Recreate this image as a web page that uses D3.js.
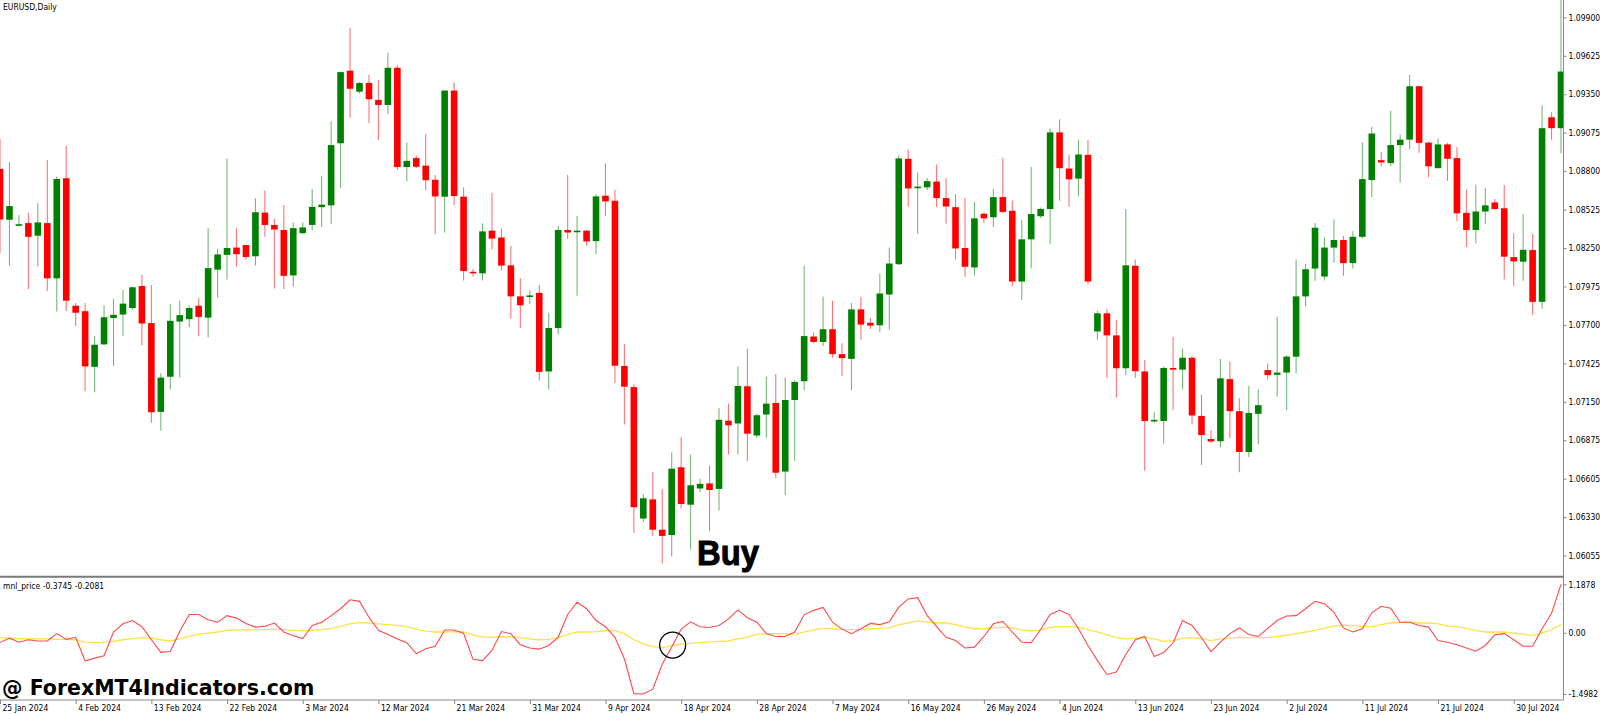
<!DOCTYPE html>
<html><head><meta charset="utf-8">
<script src="https://cdn.jsdelivr.net/npm/d3@7"></script>
<style>
html,body{margin:0;padding:0;background:#fff;overflow:hidden;}
svg{display:block;}
.lbl{font-family:"DejaVu Sans Condensed","DejaVu Sans",sans-serif;font-size:8.5px;fill:#000;}
</style></head><body>
<svg id="chart" width="1600" height="715"></svg>
<script>
// ---- DATA ----
const openP = [
1.08816,1.08452,1.08415,1.08428,1.08338,1.08428,1.08033,1.08749,1.07837,1.07798,
1.07400,1.07561,1.07749,1.07774,1.07821,1.07978,1.07713,1.07078,1.07329,1.07724,
1.07741,1.07837,1.07752,1.08095,1.08201,1.08253,1.08271,1.08191,1.08503,1.08415,
1.08379,1.08054,1.08356,1.08415,1.08542,1.08555,1.08999,1.09518,1.09368,1.09430,
1.09309,1.09273,1.09539,1.08829,1.08893,1.08839,1.08738,1.08617,1.09376,1.08617,
1.08080,1.08069,1.08374,1.08325,1.08126,1.07904,1.07904,1.07929,1.07367,1.07677,
1.08379,1.08366,1.08374,1.08299,1.08624,1.08588,1.07406,1.07255,1.06315,1.06452,
1.06235,1.06197,1.06682,1.06414,1.06530,1.06566,1.06527,1.07015,1.06995,1.07261,
1.06909,1.07059,1.07142,1.06651,1.07163,1.07297,1.07617,1.07578,1.07669,1.07491,
1.07457,1.07811,1.07715,1.07697,1.07917,1.08134,1.08888,1.08679,1.08684,1.08725,
1.08607,1.08542,1.08250,1.08111,1.08495,1.08470,1.08614,1.08516,1.08010,1.08312,
1.08477,1.08529,1.09077,1.08818,1.08746,1.08916,1.07653,1.07783,1.07625,1.07390,
1.08123,1.07367,1.07013,1.07013,1.07392,1.07380,1.07465,1.07049,1.06884,1.06868,
1.07312,1.07083,1.06791,1.07064,1.07377,1.07343,1.07359,1.07473,1.07904,1.08103,
1.08046,1.08253,1.08307,1.08142,1.08330,1.08736,1.08878,1.08857,1.08986,1.09025,
1.09407,1.09004,1.08821,1.08991,1.08893,1.08501,1.08379,1.08511,1.08576,1.08534,
1.08185,1.08152,1.08235,1.07865,1.09185,1.09107];
const highP = [
1.09028,1.08865,1.08485,1.08503,1.08570,1.08880,1.08762,1.08981,1.07857,1.07857,
1.07620,1.07840,1.07886,1.07950,1.07974,1.08059,1.07986,1.07354,1.07847,1.07873,
1.07840,1.07891,1.08392,1.08244,1.08891,1.08395,1.08273,1.08606,1.08661,1.08459,
1.08557,1.08433,1.08433,1.08671,1.08764,1.09157,1.09513,1.09823,1.09438,1.09490,
1.09449,1.09647,1.09557,1.09002,1.08911,1.09066,1.08772,1.09380,1.09433,1.08684,
1.08100,1.08426,1.08645,1.08389,1.08266,1.08033,1.07948,1.07986,1.07787,1.08408,
1.08772,1.08478,1.08379,1.08635,1.08855,1.08666,1.07561,1.07276,1.06491,1.06646,
1.06525,1.06788,1.06897,1.06773,1.06600,1.06695,1.07103,1.07137,1.07405,1.07529,
1.07064,1.07330,1.07349,1.07323,1.07305,1.08123,1.07646,1.07904,1.07873,1.07568,
1.07857,1.07899,1.07749,1.08067,1.08253,1.08911,1.08955,1.08790,1.08749,1.08847,
1.08751,1.08635,1.08609,1.08581,1.08506,1.08674,1.08896,1.08588,1.08452,1.08829,
1.08539,1.09105,1.09170,1.08919,1.09025,1.09025,1.07801,1.07814,1.07736,1.08529,
1.08167,1.07449,1.07077,1.07400,1.07615,1.07529,1.07478,1.07201,1.06948,1.07457,
1.07439,1.07176,1.07263,1.07240,1.07424,1.07757,1.07483,1.08167,1.08136,1.08428,
1.08325,1.08454,1.08335,1.08369,1.09007,1.09118,1.08937,1.09232,1.09061,1.09490,
1.09410,1.09010,1.09033,1.09002,1.08971,1.08666,1.08702,1.08681,1.08601,1.08700,
1.08356,1.08493,1.08351,1.09270,1.09221,1.10090];
const lowP = [
1.08214,1.08124,1.08408,1.07956,1.08118,1.07943,1.07795,1.07800,1.07692,1.07225,
1.07219,1.07555,1.07408,1.07620,1.07808,1.07555,1.07000,1.06943,1.07238,1.07323,
1.07684,1.07618,1.07612,1.07896,1.08025,1.08116,1.08168,1.08124,1.08330,1.07961,
1.07956,1.07974,1.08351,1.08377,1.08400,1.08420,1.08679,1.09182,1.09356,1.09144,
1.09022,1.09208,1.08808,1.08728,1.08821,1.08663,1.08348,1.08361,1.08555,1.08018,
1.08046,1.08018,1.08239,1.08089,1.07744,1.07677,1.07852,1.07302,1.07238,1.07633,
1.08317,1.07909,1.08266,1.08206,1.08478,1.07284,1.06987,1.06212,1.06290,1.06191,
1.05993,1.06044,1.06388,1.06091,1.06504,1.06225,1.06372,1.06773,1.06775,1.06726,
1.06891,1.06891,1.06607,1.06483,1.06729,1.07232,1.07568,1.07547,1.07465,1.07336,
1.07232,1.07594,1.07671,1.07651,1.07666,1.08129,1.08545,1.08351,1.08663,1.08542,
1.08426,1.08167,1.08043,1.08054,1.08428,1.08402,1.08503,1.07976,1.07878,1.08105,
1.08464,1.08276,1.08588,1.08545,1.08619,1.07989,1.07594,1.07318,1.07181,1.07341,
1.07320,1.06659,1.07000,1.06850,1.07090,1.07238,1.06987,1.06698,1.06858,1.06824,
1.06891,1.06646,1.06755,1.06845,1.07310,1.07186,1.07090,1.07354,1.07832,1.08015,
1.08018,1.08144,1.08051,1.08103,1.08317,1.08614,1.08834,1.08834,1.08718,1.08955,
1.08932,1.08756,1.08818,1.08730,1.08441,1.08258,1.08284,1.08420,1.08524,1.08025,
1.07976,1.08015,1.07770,1.07816,1.09025,1.08927];
const closeP = [
1.08454,1.08550,1.08420,1.08330,1.08433,1.08033,1.08744,1.07873,1.07787,1.07403,
1.07558,1.07755,1.07772,1.07852,1.07969,1.07710,1.07075,1.07323,1.07729,1.07770,
1.07821,1.07757,1.08106,1.08204,1.08250,1.08206,1.08186,1.08506,1.08415,1.08382,
1.08051,1.08392,1.08397,1.08544,1.08560,1.08986,1.09508,1.09389,1.09430,1.09314,
1.09273,1.09539,1.08829,1.08873,1.08831,1.08735,1.08619,1.09376,1.08622,1.08085,
1.08069,1.08369,1.08317,1.08124,1.07904,1.07840,1.07911,1.07364,1.07678,1.08379,
1.08361,1.08374,1.08297,1.08619,1.08583,1.07408,1.07258,1.06396,1.06460,1.06235,
1.06191,1.06672,1.06419,1.06553,1.06563,1.06519,1.07021,1.06982,1.07263,1.06922,
1.07054,1.07137,1.06643,1.07163,1.07292,1.07620,1.07578,1.07669,1.07491,1.07462,
1.07811,1.07702,1.07695,1.07925,1.08139,1.08891,1.08676,1.08689,1.08728,1.08607,
1.08547,1.08247,1.08116,1.08462,1.08462,1.08614,1.08508,1.08010,1.08312,1.08493,
1.08529,1.09077,1.08821,1.08741,1.08919,1.08010,1.07783,1.07625,1.07390,1.08126,
1.07369,1.07013,1.07021,1.07392,1.07380,1.07465,1.07052,1.06912,1.06866,1.07318,
1.07083,1.06791,1.07070,1.07126,1.07341,1.07359,1.07473,1.07904,1.08098,1.08395,
1.08253,1.08307,1.08142,1.08330,1.08743,1.09069,1.08862,1.08986,1.09025,1.09407,
1.09002,1.08834,1.08991,1.08888,1.08498,1.08379,1.08511,1.08555,1.08529,1.08188,
1.08154,1.08237,1.07865,1.09107,1.09107,1.09512];

// indicator (mnl_price): fast (red) and slow (yellow) lines
const mnlFast = [
-0.24,-0.13,-0.23,-0.17,-0.20,-0.20,-0.02,-0.16,-0.11,-0.69,
-0.62,-0.56,0.02,0.22,0.30,0.15,-0.17,-0.48,-0.46,0.04,
0.45,0.45,0.32,0.26,0.42,0.36,0.23,0.14,0.16,0.24,
0.02,-0.07,-0.14,0.18,0.26,0.42,0.59,0.81,0.77,0.38,
0.06,-0.04,-0.15,-0.24,-0.51,-0.39,-0.33,0.07,0.07,-0.01,
-0.65,-0.68,-0.43,0.03,-0.02,-0.29,-0.37,-0.40,-0.31,-0.11,
0.45,0.75,0.59,0.30,0.15,-0.11,-0.64,-1.49,-1.4982,-1.38,
-0.77,-0.35,0.09,0.27,0.15,0.13,0.18,0.34,0.56,0.37,
0.26,-0.02,-0.09,-0.09,0.02,0.44,0.55,0.62,0.26,0.09,
-0.02,0.10,0.23,0.20,0.27,0.63,0.83,0.86,0.42,0.15,
-0.11,-0.19,-0.37,-0.35,-0.09,0.22,0.28,0.02,-0.23,-0.24,
0.08,0.45,0.55,0.45,0.10,-0.31,-0.68,-1.02,-0.96,-0.53,
-0.17,-0.09,-0.58,-0.48,-0.25,0.30,0.18,-0.12,-0.46,-0.23,
-0.02,0.12,-0.04,-0.09,0.11,0.30,0.41,0.42,0.59,0.77,
0.71,0.50,0.12,0.02,0.10,0.49,0.65,0.60,0.26,0.26,
0.18,0.14,-0.19,-0.23,-0.29,-0.37,-0.45,-0.31,-0.05,-0.02,
-0.17,-0.33,-0.33,0.10,0.48,1.1878];
const mnlSlow = [
-0.12,-0.13,-0.14,-0.15,-0.15,-0.15,-0.16,-0.16,-0.17,-0.23,
-0.24,-0.23,-0.21,-0.17,-0.14,-0.12,-0.13,-0.17,-0.20,-0.15,
-0.09,-0.04,-0.01,0.02,0.06,0.07,0.07,0.07,0.08,0.09,
0.08,0.06,0.05,0.06,0.08,0.11,0.16,0.22,0.25,0.24,
0.22,0.20,0.18,0.15,0.09,0.04,0.02,0.02,0.03,0.02,
-0.05,-0.10,-0.11,-0.09,-0.10,-0.12,-0.15,-0.17,-0.16,-0.12,
-0.04,0.02,0.02,0.03,0.05,0.06,-0.02,-0.17,-0.27,-0.34,
-0.37,-0.31,-0.28,-0.26,-0.24,-0.22,-0.21,-0.20,-0.15,-0.11,
-0.04,-0.02,-0.02,-0.02,-0.04,0.02,0.07,0.11,0.10,0.08,
0.08,0.08,0.10,0.11,0.12,0.20,0.24,0.29,0.26,0.24,
0.24,0.20,0.14,0.10,0.10,0.12,0.14,0.12,0.07,0.05,
0.07,0.13,0.15,0.15,0.14,0.08,0.02,-0.05,-0.12,-0.15,
-0.13,-0.12,-0.15,-0.21,-0.19,-0.13,-0.12,-0.14,-0.19,-0.15,
-0.13,-0.11,-0.12,-0.12,-0.12,-0.09,-0.06,-0.02,0.02,0.06,
0.11,0.17,0.18,0.18,0.15,0.15,0.20,0.24,0.26,0.26,
0.24,0.24,0.22,0.17,0.15,0.11,0.06,0.02,0.02,0.02,
-0.01,-0.03,-0.07,0.00,0.08,0.20];

const priceTicks  = [1.09900,1.09625,1.09350,1.09075,1.08800,1.08525,1.08250,1.07975,1.07700,1.07425,1.07150,1.06875,1.06600,1.06325,1.06050];
const priceLabels = ["1.09900","1.09625","1.09350","1.09075","1.08800","1.08525","1.08250","1.07975","1.07700","1.07425","1.07150","1.06875","1.06605","1.06330","1.06055"];
const indTicks  = [1.1878, 0, -1.4982];
const indLabels = ["1.1878","0.00","-1.4982"];
const tickBars  = [0,8,16,24,32,40,48,56,64,72,80,88,96,104,112,120,128,136,144,152,160];
const dateLabels = ["25 Jan 2024","4 Feb 2024","13 Feb 2024","22 Feb 2024","3 Mar 2024","12 Mar 2024","21 Mar 2024","31 Mar 2024","9 Apr 2024","18 Apr 2024","28 Apr 2024","7 May 2024","16 May 2024","26 May 2024","4 Jun 2024","13 Jun 2024","23 Jun 2024","2 Jul 2024","11 Jul 2024","21 Jul 2024","30 Jul 2024"];
const signalBar = 71.1, signalValue = -0.30;

// ---- LAYOUT ----
const svg = d3.select("#chart");
const axisX = 1563.5, sepY = 576.7, botY = 700;
const n = openP.length;
const x = d3.scaleLinear().domain([0, n-1]).range([0, 1561]);
const y = d3.scaleLinear().domain([1.09900, 1.06050]).range([17.3, 555.6]);
const yi = d3.scaleLinear().domain([-1.4982, 1.1878]).range([694, 584.3]);
const GREEN = "#008000", RED = "#ff0000";

const defs = svg.append("defs");
defs.append("clipPath").attr("id","cMain").append("rect").attr("x",0).attr("y",0).attr("width",axisX).attr("height",sepY-1);
defs.append("clipPath").attr("id","cInd").append("rect").attr("x",0).attr("y",sepY+1).attr("width",axisX).attr("height",botY-sepY-1);

// candles
const gC = svg.append("g").attr("clip-path","url(#cMain)");
const bars = d3.range(n);
gC.selectAll("line.wick").data(bars).join("line")
  .attr("x1", i => x(i)).attr("x2", i => x(i))
  .attr("y1", i => y(highP[i])).attr("y2", i => y(lowP[i]))
  .attr("stroke", i => closeP[i] >= openP[i] ? GREEN : RED)
  .attr("stroke-opacity", 0.55).attr("stroke-width", 1.1);
const bw = 6.6;
gC.selectAll("rect.body").data(bars).join("rect")
  .attr("x", i => x(i) - bw/2).attr("width", bw)
  .attr("y", i => Math.min(y(openP[i]), y(closeP[i])))
  .attr("height", i => Math.max(1.6, Math.abs(y(openP[i]) - y(closeP[i]))))
  .attr("fill", i => closeP[i] >= openP[i] ? GREEN : RED);

// indicator lines
const gI = svg.append("g").attr("clip-path","url(#cInd)");
const line = d3.line().x((d,i) => x(i)).y(d => yi(d));
gI.append("path").datum(mnlSlow).attr("d", line).attr("fill","none").attr("stroke","#ffe14a").attr("stroke-width",1.3);
gI.append("path").datum(mnlFast).attr("d", line).attr("fill","none").attr("stroke","#ff4a4a").attr("stroke-width",1.1);

// frame lines
svg.append("line").attr("x1",axisX).attr("x2",axisX).attr("y1",0).attr("y2",botY).attr("stroke","#888").attr("stroke-width",1);
svg.append("line").attr("x1",0).attr("x2",axisX).attr("y1",sepY).attr("y2",sepY).attr("stroke","#7a7a7a").attr("stroke-width",2);
svg.append("line").attr("x1",0).attr("x2",axisX).attr("y1",botY).attr("y2",botY).attr("stroke","#888").attr("stroke-width",1);

// price axis
const gy = svg.append("g").attr("transform",`translate(${axisX},0)`)
  .call(d3.axisRight(y).tickValues(priceTicks).tickFormat((d,i)=>priceLabels[i]).tickSize(3).tickPadding(2).tickSizeOuter(0));
gy.select(".domain").remove();
gy.selectAll(".tick line").attr("stroke","#888");
gy.selectAll("text").attr("class","lbl").attr("font-size",null).attr("font-family",null);

// indicator axis
const gyi = svg.append("g").attr("transform",`translate(${axisX},0)`)
  .call(d3.axisRight(yi).tickValues(indTicks).tickFormat((d,i)=>indLabels[i]).tickSize(3).tickPadding(2).tickSizeOuter(0));
gyi.select(".domain").remove();
gyi.selectAll(".tick line").attr("stroke","#888");
gyi.selectAll("text").attr("class","lbl").attr("font-size",null).attr("font-family",null);

// date axis
const gx = svg.append("g").attr("transform",`translate(0,${botY})`)
  .call(d3.axisBottom(x).tickValues(tickBars).tickFormat((d,i)=>dateLabels[i]).tickSize(4).tickPadding(0.7).tickSizeOuter(0));
gx.select(".domain").remove();
gx.selectAll(".tick line").attr("stroke","#888");
gx.selectAll("text").attr("class","lbl").attr("font-size",null).attr("font-family",null)
  .attr("text-anchor","start").attr("x",2);

// titles
svg.append("text").attr("class","lbl").attr("x",3).attr("y",10.2).text("EURUSD,Daily");
svg.append("text").attr("class","lbl").attr("x",3).attr("y",588.5).text("mnl_price -0.3745 -0.2081");

// annotations
svg.append("circle").attr("cx", x(signalBar)).attr("cy", yi(signalValue)).attr("r",13)
  .attr("fill","none").attr("stroke","#000").attr("stroke-width",1.3);
svg.append("text").attr("x",0).attr("y",0)
  .attr("transform","translate(697,565) scale(0.91,1)")
  .attr("font-family","'Liberation Sans',Arial,sans-serif").attr("font-weight","bold")
  .attr("font-size",36).attr("fill","#000").attr("stroke","#000").attr("stroke-width",1)
  .text("Buy");
svg.append("text").attr("x",2).attr("y",695)
  .attr("font-family","'DejaVu Sans',sans-serif").attr("font-weight","bold")
  .attr("font-size",20.5).attr("fill","#000")
  .text("@ ForexMT4Indicators.com");
</script>
</body></html>
